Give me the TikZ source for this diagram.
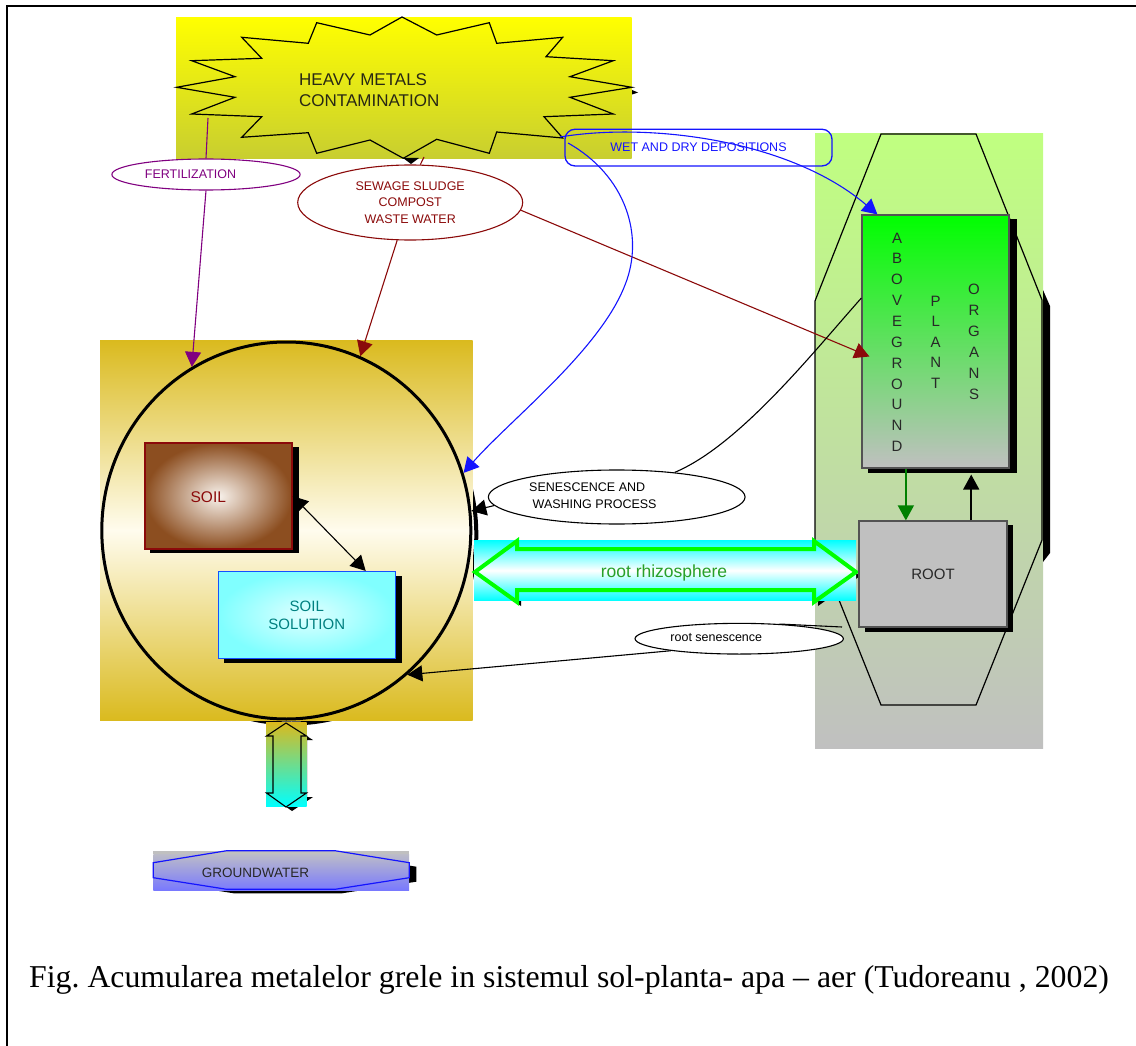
\documentclass[tikz,border=0pt]{standalone}
\usepackage{fontspec}
\newfontfamily\sansf{Liberation Sans}
\newfontfamily\seriff{Liberation Serif}
\usetikzlibrary{arrows.meta,shapes.geometric,calc}
\newcommand\fsz[2]{\fontsize{#1}{#2}\selectfont}
\definecolor{goldc}{RGB}{218,186,30}
\definecolor{creamc}{RGB}{255,252,238}
\definecolor{staryel}{RGB}{255,255,0}
\definecolor{starbot}{RGB}{200,206,48}
\definecolor{planttop}{RGB}{192,255,128}
\definecolor{plantmid}{RGB}{192,224,160}
\definecolor{greyc}{RGB}{192,192,192}
\definecolor{darkred}{RGB}{139,10,10}
\definecolor{purplec}{RGB}{128,0,128}
\definecolor{bluec}{RGB}{20,20,255}
\definecolor{greenc}{RGB}{0,128,0}
\definecolor{limec}{RGB}{0,255,0}
\definecolor{cyanc}{RGB}{0,255,255}
\definecolor{soilin}{RGB}{248,242,236}
\definecolor{soilout}{RGB}{140,78,32}
\definecolor{solin}{RGB}{225,255,255}
\definecolor{solout}{RGB}{128,255,255}
\definecolor{solblue}{RGB}{20,80,255}
\definecolor{teal2}{RGB}{0,128,128}
\definecolor{txtgray}{RGB}{40,40,40}
\definecolor{rhizotxt}{RGB}{40,160,40}
\definecolor{gwtop}{RGB}{188,188,200}
\definecolor{gwbot}{RGB}{120,120,255}
\definecolor{startxt}{RGB}{40,40,20}
\begin{document}
\begin{tikzpicture}[x=1pt,y=-1pt,
  tip/.style={-{Triangle[length=15pt,width=16pt]}},
  tips2/.style={{Triangle[length=15pt,width=16pt]}-{Triangle[length=15pt,width=16pt]}},
  lbl/.style={inner sep=0pt},
  bubble/.style={ellipse,fill=white,inner sep=0pt,line width=1.1pt},
  conn/.style={line width=1.1pt}]
\useasboundingbox (0,0) rectangle (1136,1046);
% frame
\draw[line width=2pt] (7,1046) -- (7,6) -- (1136,6);

% heavy metals
\shade[top color=staryel,bottom color=starbot] (176,17.3) rectangle (631.7,158.3);
\draw[line width=1.2pt] (402,17) -- (436.7,35) -- (489.3,22.7) -- (496.7,43.3) -- (562.7,37.3) -- (546,56.7) -- (613.3,60.7) -- (570,76.7) -- (631.7,87.3) -- (570,97.3) -- (613.3,114) -- (544,116.7) -- (562.7,138) -- (496.7,132) -- (489.3,153.3) -- (436.7,139.3) -- (403.3,158.3) -- (370,140) -- (316.7,153.3) -- (308.3,132.7) -- (241.7,137.3) -- (261.7,116.7) -- (191.7,114) -- (235,97.3) -- (176.7,87.3) -- (235,76.7) -- (191.7,60.7) -- (261.7,58.3) -- (241.7,37.3) -- (308.3,43.3) -- (316.7,22.7) -- (370,35) -- cycle;
\fill (403,158) -- (419,158) -- (411,164) -- cycle;
\fill (632,90) -- (638,92.5) -- (632,94.5) -- cycle;
\node[lbl,anchor=base west,font=\sansf\fsz{17}{20},text=startxt] (hm1) at (299,86) {HEAVY METALS};
\node[lbl,anchor=base west,font=\sansf\fsz{17}{20},text=startxt] (hm2) at (299,106.7) {CONTAMINATION};

% plant region
\shade[top color=planttop,bottom color=greyc,middle color=plantmid] (815,134) rectangle (1043,748);
\fill (1043,290) -- (1050,306) -- (1050,553) -- (1043,562) -- cycle;
\draw[line width=1.2pt] (881,134) -- (976,134) -- (1042,300) -- (1042,540) -- (976,705) -- (881,705) -- (815,540) -- (815,301) -- cycle;

% soil area
\draw[line width=4pt] (291.3,534.5) ellipse [x radius=185, y radius=189];
\shade[top color=goldc,bottom color=goldc,middle color=creamc] (100,340) rectangle (472.7,720.7);
\node[ellipse,draw,line width=3pt,minimum width=369pt,minimum height=377pt,inner sep=0pt] (soilc) at (286.3,530.5) {};

\fill (150,447) rectangle (299,553.3);
\node[draw=darkred,line width=2.2pt,minimum width=146.7pt,minimum height=105.7pt,inner sep=0pt,inner color=soilin,outer color=soilout] (soil) at (218.3,496.2) {};
\node[lbl,font=\sansf\fsz{15.5}{18},text=darkred] (soiltxt) at (208.3,496.7) {SOIL};

\fill (224,576) rectangle (401.7,663);
\node[draw=solblue,line width=1.5pt,minimum width=177pt,minimum height=86.6pt,inner sep=0pt,inner color=solin,outer color=solout,align=center,font=\sansf\fsz{15}{17.7},text=teal2] (sol) at (306.8,615) {SOIL\\SOLUTION};

% rhizosphere arrow
\fill[shift={(4,4)}] (475,572) -- (517,541) -- (517,549) -- (814,549) -- (814,541) -- (856,572) -- (814,602) -- (814,590) -- (517,590) -- (517,602) -- cycle;
\shade[top color=cyanc,bottom color=cyanc,middle color=white] (474,540) rectangle (856,600.7);
\draw[limec,line width=4pt,line join=miter] (475,572) -- (517,541) -- (517,549) -- (814,549) -- (814,541) -- (856,572) -- (814,602) -- (814,590) -- (517,590) -- (517,602) -- cycle;
\node[lbl,font=\sansf\fsz{17.5}{20},text=rhizotxt] (rhizo) at (664,573) {root rhizosphere};

% vertical arrow to groundwater
\fill[shift={(6,4)}] (286,723) -- (307,736) -- (301,736) -- (301,793) -- (307,793) -- (286,807) -- (266,793) -- (273,793) -- (273,736) -- (266,736) -- cycle;
\shade[top color=goldc,bottom color=cyanc] (266,722.7) rectangle (306.7,806.7);
\draw[line width=1.1pt] (286,723) -- (306.5,736) -- (301,736) -- (301,793) -- (306.5,793) -- (286,807) -- (266.5,793) -- (273,793) -- (273,736) -- (266.5,736) -- cycle;

% groundwater
\fill[shift={(7,4)}] (153.3,862.7) -- (226.7,850.7) -- (335,850.7) -- (409.3,862.7) -- (409.3,877.7) -- (335,889.3) -- (226.7,889.3) -- (153.3,877.7) -- cycle;
\fill[greyc] (153.3,850.5) rectangle (409,853.5);
\shade[top color=gwtop,bottom color=gwbot] (153.3,854) rectangle (409,890.7);
\draw[bluec,line width=1.2pt] (153.3,862.7) -- (226.7,850.7) -- (335,850.7) -- (409.3,862.7) -- (409.3,877.7) -- (335,889.3) -- (226.7,889.3) -- (153.3,877.7) -- cycle;
\node[lbl,font=\sansf\fsz{13.5}{16},text=txtgray] (gw) at (255.5,872.7) {GROUNDWATER};

% aboveground
\fill (868,219) rectangle (1017,473);
\node[draw=txtgray!80,line width=1.2pt,minimum width=147pt,minimum height=253pt,inner sep=0pt,top color=limec,bottom color=greyc] (abg) at (935.5,341.5) {};
\node[lbl,align=center,font=\sansf\fsz{15}{20.85},text=txtgray] (abgA) at (897,342.2) {A\\B\\O\\V\\E\\G\\R\\O\\U\\N\\D};
\node[lbl,align=center,font=\sansf\fsz{15}{20.6},text=txtgray] (abgP) at (935.7,342.2) {P\\L\\A\\N\\T};
\node[lbl,align=center,font=\sansf\fsz{15}{20.9},text=txtgray] (abgO) at (974,341.7) {O\\R\\G\\A\\N\\S};

% root
\fill (865,525) rectangle (1013,632);
\node[draw=txtgray!80,line width=1.2pt,fill=greyc,minimum width=148pt,minimum height=106pt,inner sep=0pt,font=\sansf\fsz{15}{18},text=txtgray] (root) at (933,574) {ROOT};

% bubbles
\node[bubble,draw=purplec,minimum width=188.3pt,minimum height=31pt] (fert) at (206,174.5) {};
\node[lbl,font=\sansf\fsz{12.5}{15},text=purplec] (ferttxt) at (190.5,173.7) {FERTILIZATION};
\node[bubble,draw=darkred,minimum width=225pt,minimum height=75pt,align=center,font=\sansf\fsz{12.5}{16.3},text=darkred] (sew) at (410.2,202.5) {SEWAGE SLUDGE\\COMPOST\\WASTE WATER};
\node[bubble,draw=black,minimum width=256.7pt,minimum height=54pt] (sen) at (616.7,497) {};
\node[lbl,align=left,anchor=west,font=\sansf\fsz{12.5}{16.7}] (sentxt) at (529,496) {SENESCENCE AND\\\hspace*{3.5pt}WASHING PROCESS};
\node[bubble,draw=black,minimum width=208.3pt,minimum height=30.7pt] (rsen) at (739.2,638.7) {};
\node[lbl,font=\sansf\fsz{12.5}{15}] (rsentxt) at (716.3,637.7) {root senescence};
\node[draw=bluec,line width=1.3pt,rounded corners=10pt,minimum width=267pt,minimum height=36.7pt,inner sep=0pt,font=\sansf\fsz{12.5}{15},text=bluec] (wet) at (698.5,147.6) {WET AND DRY DEPOSITIONS};

% free ends
\coordinate (fs) at (208,118);
\coordinate (ss) at (424,157);
\coordinate (b1) at (560,137);
\coordinate (b2) at (568,143);
\coordinate (rs) at (842,627);

% connectors
\draw[purplec,conn] (fs) -- (fert.north);
\draw[purplec,conn,tip] (fert.south) -- (soilc.120.4);
\draw[darkred,conn] (ss) -- (sew.75);
\draw[darkred,conn,tip] (sew.251) -- (soilc.67.1);
\draw[darkred,conn,tip] (sew.-4) -- ([xshift=8pt,yshift=-15pt]abg.west);
\draw[bluec,conn,tip] (b1) .. controls (650,122) and (790,140) .. ([xshift=16pt]abg.north west);
\draw[bluec,conn,tip] (b2) .. controls (625,175) and (645,235) .. (625,285) .. controls (600,350) and (510,420) .. (soilc.18.6);
\draw[conn] ([yshift=43.5pt]abg.west) .. controls (815,350) and (740,445) .. (sen.23);
\draw[conn,tip] (sen.184) -- (soilc.6.6);
\draw[conn] (rs) -- (rsen.20);
\draw[conn,tip] (rsen.190) -- (soilc.-50.5);
\draw[conn,tips2] (soil.east) -- ($(sol.north west)!0.83!(sol.north east)$);
\coordinate (ga) at ($(abg.south west)!0.3!(abg.south east)$);
\draw[greenc,line width=1.5pt,tip] (ga) -- (ga |- root.north);
\coordinate (gb) at ($(abg.south west)!0.741!(abg.south east)$);
\draw[line width=1.5pt,tip] (gb |- root.north) -- ([yshift=-6pt]gb);

% caption
\node[lbl,anchor=base west,font=\seriff\fsz{31.8}{36}] (cap) at (29,987) {Fig.\ Acumularea metalelor grele in sistemul sol-planta- apa – aer (Tudoreanu , 2002)};
\end{tikzpicture}
\end{document}
